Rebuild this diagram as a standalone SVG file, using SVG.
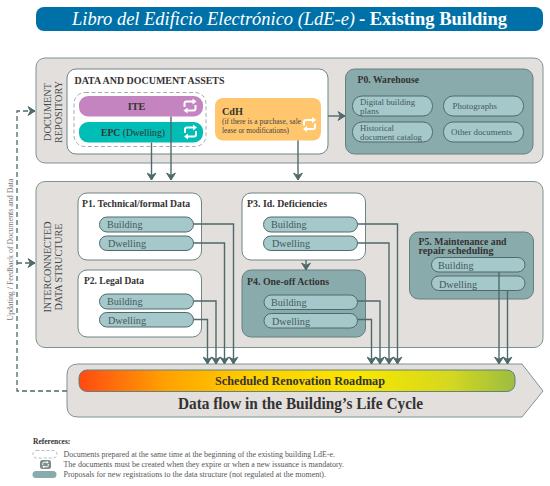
<svg xmlns="http://www.w3.org/2000/svg" width="550" height="486" viewBox="0 0 550 486">
<style>
text{font-family:"Liberation Serif","DejaVu Serif",serif;fill:#333}
.panel{fill:#e3dfdc;stroke:#7d9494;stroke-width:1}
.white{fill:#fff;stroke:#6f8585;stroke-width:1}
.teal{fill:#8aabab;stroke:#64807f;stroke-width:1}
.pill{fill:#a5c8ca;stroke:#4f6a6a;stroke-width:1}
.h{font-weight:bold;font-size:10.2px}
.p{font-size:10.6px;fill:#46595c}
.q{font-size:9px;fill:#46595c}
.side{font-size:10.8px;fill:#3f4a4a}
.c{fill:none;stroke:#4f6a6a;stroke-width:1.4}
.f{fill:none;stroke:#4f6a6a;stroke-width:1.3;stroke-dasharray:5 3}
.ic{fill:none;stroke:#fff;stroke-width:2}
.icf{fill:#fff}
.ref{font-size:8px;fill:#555}
</style>
<defs>
<marker id="a" markerWidth="10" markerHeight="10" refX="6.5" refY="4" orient="auto" markerUnits="userSpaceOnUse" viewBox="0 0 8 8"><path d="M1 0.5L6.5 4L1 7.5L2.8 4Z" fill="#4f6a6a" stroke="#4f6a6a" stroke-width="0.8"/></marker>
<linearGradient id="g" x1="0" x2="1" y1="0" y2="0"><stop offset="0" stop-color="#ff4a12"/><stop offset="0.2" stop-color="#ffa200"/><stop offset="0.4" stop-color="#ffd000"/><stop offset="0.65" stop-color="#f7e600"/><stop offset="0.85" stop-color="#d4d820"/><stop offset="1" stop-color="#9cbd40"/></linearGradient>
<g id="sync"><path class="ic" d="M-5.500 1V-2.500Q-5.500 -4.500 -3.500 -4.500H3"/><path class="icf" d="M2.500 -7.500L6.500 -4.500L2.500 -1.500Z"/><path class="ic" d="M5.500 -1V2.500Q5.500 4.500 3.500 4.500H-3"/><path class="icf" d="M-2.500 7.500L-6.500 4.500L-2.500 1.500Z"/></g>
</defs>

<g id="title"><rect x="36" y="7" width="507" height="24" rx="8" fill="#0071a8"/>
<text x="72" y="25" font-size="18.500" font-style="italic" textLength="283" lengthAdjust="spacingAndGlyphs" style="fill:#fff">Libro del Edificio Electrónico (LdE-e)</text>
<text x="359" y="25" font-size="18.500" font-weight="bold" textLength="148" lengthAdjust="spacingAndGlyphs" style="fill:#fff">- Existing Building</text></g>

<g id="document-repository"><rect class="panel" x="36" y="58" width="507" height="105" rx="9"/>
<text class="side" transform="rotate(-90 51 112)" x="51" y="112" text-anchor="middle" textLength="58" lengthAdjust="spacingAndGlyphs">DOCUMENT</text>
<text class="side" transform="rotate(-90 62 112)" x="62" y="112" text-anchor="middle" textLength="62" lengthAdjust="spacingAndGlyphs">REPOSITORY</text></g>

<g id="data-assets"><rect class="white" x="67" y="69" width="261" height="85" rx="9"/>
<text x="74.500" y="84" font-size="9.500" font-weight="bold" textLength="150" lengthAdjust="spacingAndGlyphs">DATA AND DOCUMENT ASSETS</text>
<rect x="74" y="92.500" width="132" height="54" rx="11" fill="none" stroke="#aaa" stroke-width="1" stroke-dasharray="4 2.500"/></g>

<g id="ite"><rect x="79" y="96" width="124" height="20.500" rx="9" fill="#c484bf"/><text x="136.500" y="110" text-anchor="middle" class="h">ITE</text><use href="#sync" x="190" y="106"/></g>
<g id="epc"><rect x="79" y="122" width="124" height="20.500" rx="9" fill="#00bdb5"/><text x="101" y="136" font-size="10" textLength="64" lengthAdjust="spacingAndGlyphs"><tspan font-weight="bold">EPC</tspan> (Dwelling)</text><use href="#sync" x="190.500" y="132"/></g>
<g id="cdh"><rect x="215" y="98" width="106" height="42.500" rx="8" fill="#ffc66d"/><text x="222" y="115" class="h">CdH</text>
<text x="222" y="124" font-size="7.300" style="fill:#444" textLength="79" lengthAdjust="spacingAndGlyphs">(if there is a purchase, sale</text><text x="222" y="132.500" font-size="7.300" style="fill:#444" textLength="67" lengthAdjust="spacingAndGlyphs">lease or modifications)</text><use href="#sync" x="309.500" y="124.500"/></g>

<g id="p0"><rect class="teal" x="345.500" y="69" width="187.500" height="85" rx="9"/><text x="357.500" y="83" class="h" textLength="61.500" lengthAdjust="spacingAndGlyphs">P0. Warehouse</text>
<rect class="pill" x="352.500" y="96" width="80" height="20" rx="9.500"/><text class="q" x="360" y="104.500" textLength="55" lengthAdjust="spacingAndGlyphs">Digital building</text><text class="q" x="360" y="113.500" textLength="19" lengthAdjust="spacingAndGlyphs">plans</text>
<rect class="pill" x="443.500" y="96" width="80" height="20" rx="9.500"/><text class="q" x="452.500" y="109" textLength="44.500" lengthAdjust="spacingAndGlyphs">Photographs</text>
<rect class="pill" x="352.500" y="122" width="80" height="20" rx="9.500"/><text class="q" x="360" y="130.500" textLength="34" lengthAdjust="spacingAndGlyphs">Historical</text><text class="q" x="360" y="139.500" textLength="62" lengthAdjust="spacingAndGlyphs">document catalog</text>
<rect class="pill" x="443.500" y="122" width="80" height="20" rx="9.500"/><text class="q" x="451" y="134.500" textLength="61" lengthAdjust="spacingAndGlyphs">Other documents</text></g>

<g id="data-structure"><rect class="panel" x="36" y="181.500" width="507" height="166" rx="9"/>
<text class="side" transform="rotate(-90 51 267)" x="51" y="267" text-anchor="middle" textLength="91" lengthAdjust="spacingAndGlyphs">INTERCONNECTED</text>
<text class="side" transform="rotate(-90 62 267)" x="62" y="267" text-anchor="middle" textLength="87" lengthAdjust="spacingAndGlyphs">DATA STRUCTURE</text></g>

<g id="p1"><rect class="white" x="78" y="193" width="123.500" height="67" rx="9"/><text x="82" y="207" class="h" textLength="108" lengthAdjust="spacingAndGlyphs">P1. Technical/formal Data</text>
<rect class="pill" x="99.500" y="217" width="94" height="15" rx="7.500"/><text class="p" x="107" y="228" textLength="35.500" lengthAdjust="spacingAndGlyphs">Building</text>
<rect class="pill" x="99.500" y="236" width="94" height="14.500" rx="7.250"/><text class="p" x="108" y="247" textLength="38" lengthAdjust="spacingAndGlyphs">Dwelling</text></g>
<g id="p2"><rect class="white" x="78" y="270" width="123.500" height="67" rx="9"/><text x="84" y="284" class="h" textLength="60" lengthAdjust="spacingAndGlyphs">P2. Legal Data</text>
<rect class="pill" x="99.500" y="294" width="94" height="15" rx="7.500"/><text class="p" x="107" y="305" textLength="35.500" lengthAdjust="spacingAndGlyphs">Building</text>
<rect class="pill" x="99.500" y="312.500" width="94" height="14.500" rx="7.250"/><text class="p" x="108" y="324" textLength="38" lengthAdjust="spacingAndGlyphs">Dwelling</text></g>
<g id="p3"><rect class="white" x="242" y="193" width="123.500" height="67" rx="9"/><text x="247" y="207" class="h" textLength="80" lengthAdjust="spacingAndGlyphs">P3. Id. Deficiencies</text>
<rect class="pill" x="263.500" y="217" width="94" height="15" rx="7.500"/><text class="p" x="271" y="228" textLength="35.500" lengthAdjust="spacingAndGlyphs">Building</text>
<rect class="pill" x="263.500" y="236" width="94" height="14.500" rx="7.250"/><text class="p" x="272" y="247" textLength="38" lengthAdjust="spacingAndGlyphs">Dwelling</text></g>
<g id="p4"><rect class="teal" x="242" y="270" width="123.500" height="67" rx="9"/><text x="247" y="285" class="h" textLength="82" lengthAdjust="spacingAndGlyphs">P4. One-off Actions</text>
<rect class="pill" x="264" y="295" width="93.500" height="14.500" rx="7.250"/><text class="p" x="271" y="306" textLength="35.500" lengthAdjust="spacingAndGlyphs">Building</text>
<rect class="pill" x="264" y="313.500" width="93.500" height="14.500" rx="7.250"/><text class="p" x="272" y="325" textLength="38" lengthAdjust="spacingAndGlyphs">Dwelling</text></g>
<g id="p5"><rect class="teal" x="409.500" y="232" width="124" height="67" rx="9"/><text x="418.500" y="245" class="h" textLength="88" lengthAdjust="spacingAndGlyphs">P5. Maintenance and</text><text x="418.500" y="253.500" class="h" textLength="75" lengthAdjust="spacingAndGlyphs">repair scheduling</text>
<rect class="pill" x="431.500" y="257.500" width="93.500" height="14.500" rx="7.250"/><text class="p" x="438" y="268.500" textLength="35.500" lengthAdjust="spacingAndGlyphs">Building</text>
<rect class="pill" x="431.500" y="276" width="93.500" height="14.500" rx="7.250"/><text class="p" x="439" y="287.500" textLength="38" lengthAdjust="spacingAndGlyphs">Dwelling</text></g>

<g id="roadmap"><path class="panel" d="M78 364H522L543 391L522 417H78Q67 417 67 406V375Q67 364 78 364Z"/>
<rect x="79" y="370" width="436" height="21.500" rx="8" fill="url(#g)" stroke="#64807f" stroke-width="1"/>
<text x="215" y="385" font-size="12" font-weight="bold" textLength="170" lengthAdjust="spacingAndGlyphs">Scheduled Renovation Roadmap</text>
<text x="178" y="409" font-size="16.500" font-weight="bold" textLength="245" lengthAdjust="spacingAndGlyphs">Data flow in the Building’s Life Cycle</text></g>

<g id="connectors">
<path class="c" d="M151.500 142.500V180" marker-end="url(#a)"/>
<path class="c" d="M171 116.500V180" marker-end="url(#a)"/>
<path class="c" d="M298 140.500V180" marker-end="url(#a)"/>
<path class="c" d="M328 116H345" marker-end="url(#a)"/>
<path class="c" d="M306 260V270" marker-end="url(#a)"/>
<path class="c" d="M193.500 224H233.500V364" marker-end="url(#a)"/>
<path class="c" d="M193.500 243H224.500V364" marker-end="url(#a)"/>
<path class="c" d="M193.500 301H216V364" marker-end="url(#a)"/>
<path class="c" d="M193.500 319.500H207.500V364" marker-end="url(#a)"/>
<path class="c" d="M357.500 224H397.500V364" marker-end="url(#a)"/>
<path class="c" d="M357.500 243H389V364" marker-end="url(#a)"/>
<path class="c" d="M357.500 301H380V364" marker-end="url(#a)"/>
<path class="c" d="M357.500 319.500H371.500V364" marker-end="url(#a)"/>
<path class="c" d="M499 272V364" marker-end="url(#a)"/>
<path class="c" d="M507.500 290.500V364" marker-end="url(#a)"/>
<path class="f" d="M67 391H17V111H35" marker-end="url(#a)"/>
<path class="f" d="M17 263H35" marker-end="url(#a)"/>
</g>
<text transform="rotate(-90 13 249.500)" x="13" y="249.500" text-anchor="middle" font-size="8" style="fill:#777" textLength="142" lengthAdjust="spacingAndGlyphs">Updating / Feedback of Documents and Data</text>

<g id="references">
<text x="33" y="444" font-size="7.500" font-weight="bold">References:</text>
<rect x="33" y="450.500" width="24" height="7.500" rx="3.500" fill="none" stroke="#aaa" stroke-width="0.8" stroke-dasharray="3 2"/>
<rect x="40" y="460" width="11" height="9" rx="2.500" fill="#7c8a8a"/><use href="#sync" transform="translate(45.500 464.500) scale(0.5)"/>
<rect x="32.500" y="471" width="24" height="7" rx="3.500" fill="#8aabab"/>
<text class="ref" x="63.500" y="457" textLength="271.500" lengthAdjust="spacingAndGlyphs">Documents prepared at the same time at the beginning of the existing building LdE-e.</text>
<text class="ref" x="63.500" y="467" textLength="280.500" lengthAdjust="spacingAndGlyphs">The documents must be created when they expire or when a new issuance is mandatory.</text>
<text class="ref" x="63.500" y="477" textLength="262.500" lengthAdjust="spacingAndGlyphs">Proposals for new registrations to the data structure (not regulated at the moment).</text>
</g>
</svg>
